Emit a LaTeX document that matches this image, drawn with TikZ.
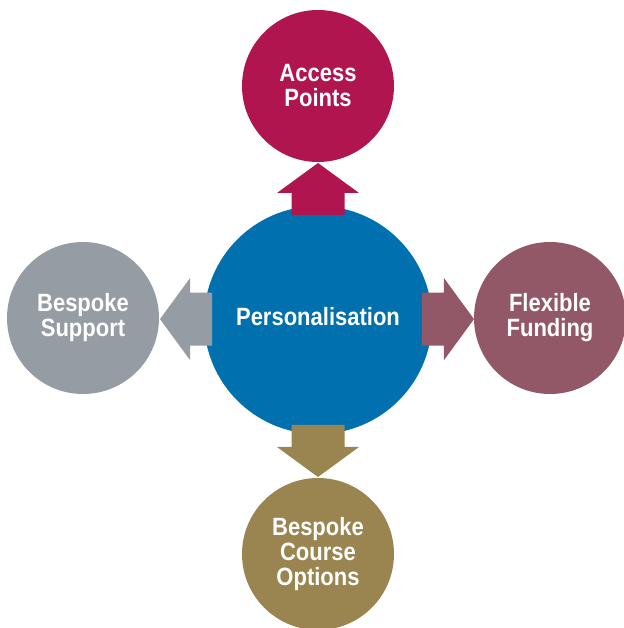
\documentclass[tikz,border=0pt]{standalone}
\usepackage{fontspec}
\setmainfont{Liberation Sans}[FakeStretch=0.88]
\usepackage{tikz}
\usetikzlibrary{calc}

\definecolor{hubblue}{HTML}{0070AF}
\definecolor{accessred}{HTML}{B0154F}
\definecolor{fundmauve}{HTML}{935868}
\definecolor{supportgrey}{HTML}{959CA3}
\definecolor{courseolive}{HTML}{9A8450}

\begin{document}
\begin{tikzpicture}[
    x=1pt, y=1pt,
    bubble/.style={circle, minimum size=152pt, inner sep=0pt, text=white, align=center,
                   font=\fontsize{25}{25}\selectfont\bfseries},
    pics/blockarrow/.style={code={
        \fill[#1] (0,-26.5) -- (22,-26.5) -- (22,-41) -- (52,0) -- (22,41) -- (22,26.5) -- (0,26.5) -- cycle;
    }}
]
    \useasboundingbox (-318,-308) rectangle (305,320);

    \node[bubble, minimum size=228pt, fill=hubblue] (hub) at (0,0) {};
    \node[text=white, font=\fontsize{25}{25}\selectfont\bfseries] (hublabel) at (0,3) {Personalisation};
    \node[bubble, fill=accessred] (access) at (0,234) {Access\\Points};
    \node[bubble, fill=supportgrey] (support) at (-235,2) {Bespoke\\Support};
    \node[bubble, fill=fundmauve] (funding) at (232,2) {Flexible\\Funding};
    \node[bubble, fill=courseolive] (course) at (0,-234) {Bespoke\\Course\\Options};

    % block arrows from the hub out to each bubble
    \pic[rotate=90] at ($(hub)!105pt!(access)$) {blockarrow=accessred};
    \pic[rotate=180] at ($(hub)!106pt!(support)$) {blockarrow=supportgrey};
    \pic at ($(hub)!104pt!(funding)$) {blockarrow=fundmauve};
    \pic[rotate=-90] at ($(hub)!105pt!(course)$) {blockarrow=courseolive};
\end{tikzpicture}
\end{document}
